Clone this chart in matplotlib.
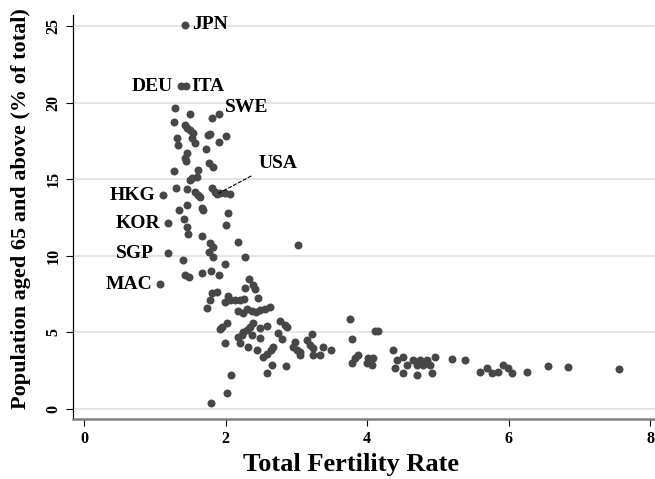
import numpy as np
import matplotlib
matplotlib.use('Agg')
import matplotlib.pyplot as plt

# labelled countries
codes = ['JPN', 'DEU', 'ITA', 'SWE', 'USA', 'HKG', 'KOR', 'SGP', 'MAC']
code_tfr = [1.43, 1.37, 1.44, 1.91, 1.88, 1.12, 1.19, 1.19, 1.07]
code_old = [25.07, 21.08, 21.08, 19.26, 14.03, 13.97, 12.14, 10.18, 8.16]

# all other countries
tfr = [1.29, 1.50, 1.81, 1.27, 1.43, 1.46, 1.50, 1.54, 1.78, 1.75, 2.01, 1.31,
       1.53, 1.57, 1.91, 1.33, 1.72, 1.46, 1.43, 1.44, 1.77, 1.82, 1.27, 1.61,
       1.60, 1.53, 1.50, 1.30, 1.46, 1.57, 1.61, 1.64, 1.81, 1.85, 1.92, 1.99,
       2.06, 1.34, 1.46, 1.67, 1.68, 2.04, 1.41, 1.46, 2.01, 1.47, 1.67, 1.78,
       1.82, 1.77, 1.82, 2.18, 1.40, 2.28, 3.02, 1.99, 1.43, 1.48, 1.67, 1.80,
       1.91, 2.33, 2.39, 2.42, 2.28, 1.81, 1.88, 1.78, 1.74, 2.04, 1.99, 2.06,
       2.13, 2.20, 2.26, 2.46, 2.18, 2.25, 2.30, 2.37, 2.43, 2.49, 2.56, 2.63,
       2.77, 2.84, 2.87, 2.39, 2.35, 2.30, 2.25, 2.23, 2.18, 2.02, 1.95, 1.92,
       2.49, 2.59, 2.37, 2.49, 2.74, 2.80, 1.99, 2.20, 2.32, 2.45, 2.67, 2.64,
       2.59, 2.53, 2.66, 2.59, 2.86, 2.08, 2.02, 1.80, 2.98, 2.95, 3.01, 3.05,
       3.05, 3.15, 3.22, 3.19, 3.24, 3.24, 3.34, 3.38, 3.49, 3.76, 3.79, 3.79,
       3.83, 3.87, 4.01, 4.00, 4.07, 4.08, 4.11, 4.16, 4.37, 4.40, 4.42, 4.51,
       4.51, 4.57, 4.65, 4.71, 4.75, 4.79, 4.85, 4.89, 4.92, 4.96, 4.71, 5.20,
       5.39, 5.60, 5.70, 5.77, 5.85, 5.92, 5.99, 6.05, 6.26, 6.56, 6.84, 7.56]
old = [19.65, 19.26, 18.99, 18.73, 18.54, 18.34, 18.21, 18.02, 17.95, 17.89, 17.82, 17.69,
       17.69, 17.36, 17.43, 17.23, 16.97, 16.71, 16.38, 16.19, 16.06, 15.80, 15.54, 15.60,
       15.14, 15.08, 14.95, 14.43, 14.36, 14.16, 13.97, 13.84, 14.43, 14.16, 14.10, 14.10,
       14.03, 12.99, 13.32, 13.12, 12.99, 12.79, 12.40, 11.88, 12.01, 11.42, 11.29, 10.84,
       10.57, 10.25, 9.92, 10.90, 9.70, 9.92, 10.70, 9.46, 8.75, 8.62, 8.88, 9.01,
       8.75, 8.49, 8.09, 7.83, 7.90, 7.57, 7.64, 7.11, 6.59, 7.38, 6.98, 7.11,
       7.11, 7.11, 7.18, 7.25, 6.40, 6.27, 6.53, 6.40, 6.33, 6.46, 6.53, 6.66,
       5.74, 5.48, 5.35, 5.61, 5.35, 5.16, 5.03, 4.83, 4.70, 5.61, 5.35, 5.22,
       5.29, 5.42, 4.83, 4.63, 4.96, 4.57, 4.31, 4.31, 4.05, 3.85, 4.05, 3.85,
       3.59, 3.39, 2.87, 2.35, 2.81, 2.22, 1.04, 0.39, 4.37, 4.05, 3.85, 3.72,
       3.52, 4.50, 4.90, 4.18, 3.98, 3.52, 3.52, 4.05, 3.85, 5.87, 4.57, 3.00,
       3.33, 3.52, 3.33, 3.00, 2.87, 3.33, 5.09, 5.09, 3.85, 2.68, 3.20, 3.39,
       2.35, 2.87, 3.20, 2.87, 3.20, 2.87, 3.20, 2.87, 2.35, 3.39, 2.22, 3.26,
       3.20, 2.42, 2.68, 2.35, 2.42, 2.87, 2.68, 2.35, 2.42, 2.81, 2.74, 2.61]

# label offsets (points) and alignment
offsets = {'JPN': (5, 0, 'left'), 'DEU': (-6, 0, 'right'), 'ITA': (4, 0, 'left'),
           'SWE': (4, 5, 'left'), 'HKG': (-6, 0, 'right'), 'KOR': (-6, 0, 'right'),
           'SGP': (-10, 0, 'right'), 'MAC': (-5, 0, 'right')}

plt.rcParams['font.family'] = 'Liberation Serif'
plt.rcParams['font.weight'] = 'bold'

fig = plt.figure(figsize=(6.55, 4.79), dpi=100)
ax = fig.add_axes([0.1115, 0.1253, 0.8885, 0.8434])

dot = '#474747'
ax.scatter(tfr, old, s=33, color=dot, linewidths=0, zorder=3)
ax.scatter(code_tfr, code_old, s=33, color=dot, linewidths=0, zorder=3)

for c, x, y in zip(codes, code_tfr, code_old):
    if c == 'USA':
        ax.annotate(c, xy=(x, y), xytext=(30, 22), textcoords='offset points',
                    fontsize=14, fontweight='bold', ha='left', va='center',
                    arrowprops=dict(arrowstyle='-', linestyle=(0, (3, 2)),
                                    lw=0.8, color='black', relpos=(0, 0),
                                    shrinkA=4, shrinkB=1))
    else:
        dx, dy, ha = offsets[c]
        ax.annotate(c, xy=(x, y), xytext=(dx, dy), textcoords='offset points',
                    fontsize=14, fontweight='bold', ha=ha, va='center')

ax.set_xlim(-0.155, 8.07)
ax.set_ylim(-0.65, 25.72)
ax.set_xticks([0, 2, 4, 6, 8])
ax.set_yticks([0, 5, 10, 15, 20, 25])
ax.yaxis.grid(True, color='#e3e3e3', lw=1.3)
ax.set_axisbelow(True)

for s in ['top', 'right']:
    ax.spines[s].set_visible(False)
ax.spines['left'].set_color('black')
ax.spines['left'].set_linewidth(0.9)
ax.spines['bottom'].set_color('#808080')
ax.spines['bottom'].set_linewidth(1.8)

ax.tick_params(axis='both', direction='out', length=5, width=0.8, labelsize=11.5, color='black')
ax.tick_params(axis='x', pad=4)
for lab in ax.get_yticklabels():
    lab.set_rotation(90)
    lab.set_va('center')
for lab in ax.get_xticklabels() + ax.get_yticklabels():
    lab.set_fontweight('bold')

ax.set_xlabel('Total Fertility Rate', fontsize=19, fontweight='bold', labelpad=4)
ax.xaxis.set_label_coords(0.478, -0.085)
ax.set_ylabel('Population aged 65 and above (% of total)', fontsize=16, fontweight='bold', labelpad=6)
ax.yaxis.set_label_coords(-0.072, 0.52)

fig.savefig('out.png', dpi=100)
